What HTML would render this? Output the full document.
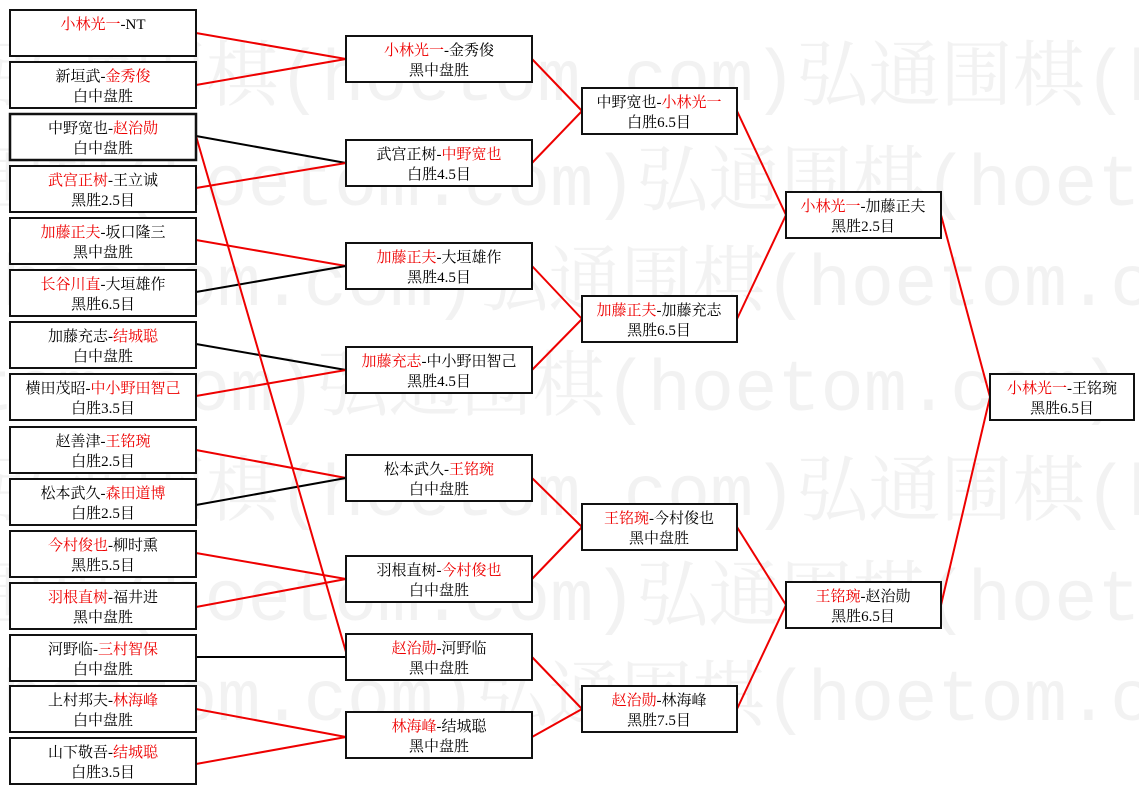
<!DOCTYPE html>
<html><head><meta charset="utf-8"><style>
html,body{margin:0;padding:0;background:#fff;width:1139px;height:793px;overflow:hidden;}
svg{display:block}
text{font-family:"Liberation Serif","Noto Serif CJK SC","Noto Sans CJK SC",serif;font-size:15px}
text.wm{font-size:72px;fill:#f2f2f2;font-family:"Liberation Mono","Noto Serif CJK SC",monospace}
</style></head><body>
<svg width="1139" height="793" xmlns="http://www.w3.org/2000/svg" overflow="hidden">
<rect width="1139" height="793" fill="#fff"/>
<text class="wm" x="-10" y="100">弘通围棋(hoetom.com)弘通围棋(hoetom.com)</text>
<text class="wm" x="-170" y="205">弘通围棋(hoetom.com)弘通围棋(hoetom.com)</text>
<text class="wm" x="-330" y="305">弘通围棋(hoetom.com)弘通围棋(hoetom.com)</text>
<text class="wm" x="-490" y="410">弘通围棋(hoetom.com)弘通围棋(hoetom.com)</text>
<text class="wm" x="-10" y="515">弘通围棋(hoetom.com)弘通围棋(hoetom.com)</text>
<text class="wm" x="-170" y="620">弘通围棋(hoetom.com)弘通围棋(hoetom.com)</text>
<text class="wm" x="-330" y="720">弘通围棋(hoetom.com)弘通围棋(hoetom.com)</text>
<g stroke-width="2" fill="none">
<line x1="196" y1="33" x2="346" y2="59" stroke="#e00"/>
<line x1="196" y1="85" x2="346" y2="59" stroke="#e00"/>
<line x1="196" y1="136" x2="346" y2="163" stroke="#000"/>
<line x1="196" y1="188" x2="346" y2="163" stroke="#e00"/>
<line x1="196" y1="240" x2="346" y2="266" stroke="#e00"/>
<line x1="196" y1="292" x2="346" y2="266" stroke="#000"/>
<line x1="196" y1="344" x2="346" y2="370" stroke="#000"/>
<line x1="196" y1="396" x2="346" y2="370" stroke="#e00"/>
<line x1="196" y1="450" x2="346" y2="478" stroke="#e00"/>
<line x1="196" y1="505" x2="346" y2="478" stroke="#000"/>
<line x1="196" y1="553" x2="346" y2="579" stroke="#e00"/>
<line x1="196" y1="607" x2="346" y2="579" stroke="#e00"/>
<line x1="196" y1="657" x2="346" y2="657" stroke="#000"/>
<line x1="196" y1="709" x2="346" y2="737" stroke="#e00"/>
<line x1="196" y1="764" x2="346" y2="737" stroke="#e00"/>
<line x1="196" y1="136" x2="346" y2="652" stroke="#e00"/>
<line x1="532" y1="59" x2="582" y2="111" stroke="#e00"/>
<line x1="532" y1="163" x2="582" y2="111" stroke="#e00"/>
<line x1="532" y1="266" x2="582" y2="319" stroke="#e00"/>
<line x1="532" y1="370" x2="582" y2="319" stroke="#e00"/>
<line x1="532" y1="478" x2="582" y2="527" stroke="#e00"/>
<line x1="532" y1="579" x2="582" y2="527" stroke="#e00"/>
<line x1="532" y1="657" x2="582" y2="709" stroke="#e00"/>
<line x1="532" y1="737" x2="582" y2="709" stroke="#e00"/>
<line x1="737" y1="111" x2="786" y2="215" stroke="#e00"/>
<line x1="737" y1="319" x2="786" y2="215" stroke="#e00"/>
<line x1="737" y1="527" x2="786" y2="605" stroke="#e00"/>
<line x1="737" y1="709" x2="786" y2="605" stroke="#e00"/>
<line x1="941" y1="215" x2="990" y2="397" stroke="#e00"/>
<line x1="941" y1="605" x2="990" y2="397" stroke="#e00"/>
</g>
<g fill="#fff" stroke="#111" stroke-width="2">
<rect x="10" y="10" width="186" height="46"/>
<rect x="10" y="62" width="186" height="46"/>
<rect x="10" y="114" width="186" height="46" stroke-width="2.5"/>
<rect x="10" y="166" width="186" height="46"/>
<rect x="10" y="218" width="186" height="46"/>
<rect x="10" y="270" width="186" height="46"/>
<rect x="10" y="322" width="186" height="46"/>
<rect x="10" y="374" width="186" height="46"/>
<rect x="10" y="427" width="186" height="46"/>
<rect x="10" y="479" width="186" height="46"/>
<rect x="10" y="531" width="186" height="46"/>
<rect x="10" y="583" width="186" height="46"/>
<rect x="10" y="635" width="186" height="46"/>
<rect x="10" y="686" width="186" height="46"/>
<rect x="10" y="738" width="186" height="46"/>
<rect x="346" y="36" width="186" height="46"/>
<rect x="346" y="140" width="186" height="46"/>
<rect x="346" y="243" width="186" height="46"/>
<rect x="346" y="347" width="186" height="46"/>
<rect x="346" y="455" width="186" height="46"/>
<rect x="346" y="556" width="186" height="46"/>
<rect x="346" y="634" width="186" height="46"/>
<rect x="346" y="712" width="186" height="46"/>
<rect x="582" y="88" width="155" height="46"/>
<rect x="582" y="296" width="155" height="46"/>
<rect x="582" y="504" width="155" height="46"/>
<rect x="582" y="686" width="155" height="46"/>
<rect x="786" y="192" width="155" height="46"/>
<rect x="786" y="582" width="155" height="46"/>
<rect x="990" y="374" width="144" height="46"/>
</g>
<g text-anchor="middle" fill="#000">
<text x="103" y="29"><tspan fill="#e00">小林光一</tspan>-NT</text>
<text x="103" y="81"><tspan>新垣武-</tspan><tspan fill="#e00">金秀俊</tspan></text><text x="103" y="101">白中盘胜</text>
<text x="103" y="133">中野宽也-<tspan fill="#e00">赵治勋</tspan></text><text x="103" y="153">白中盘胜</text>
<text x="103" y="185"><tspan fill="#e00">武宫正树</tspan>-王立诚</text><text x="103" y="205">黑胜2.5目</text>
<text x="103" y="237"><tspan fill="#e00">加藤正夫</tspan>-坂口隆三</text><text x="103" y="257">黑中盘胜</text>
<text x="103" y="289"><tspan fill="#e00">长谷川直</tspan>-大垣雄作</text><text x="103" y="309">黑胜6.5目</text>
<text x="103" y="341">加藤充志-<tspan fill="#e00">结城聪</tspan></text><text x="103" y="361">白中盘胜</text>
<text x="103" y="393">横田茂昭-<tspan fill="#e00">中小野田智己</tspan></text><text x="103" y="413">白胜3.5目</text>
<text x="103" y="446">赵善津-<tspan fill="#e00">王铭琬</tspan></text><text x="103" y="466">白胜2.5目</text>
<text x="103" y="498">松本武久-<tspan fill="#e00">森田道博</tspan></text><text x="103" y="518">白胜2.5目</text>
<text x="103" y="550"><tspan fill="#e00">今村俊也</tspan>-柳时熏</text><text x="103" y="570">黑胜5.5目</text>
<text x="103" y="602"><tspan fill="#e00">羽根直树</tspan>-福井进</text><text x="103" y="622">黑中盘胜</text>
<text x="103" y="654">河野临-<tspan fill="#e00">三村智保</tspan></text><text x="103" y="674">白中盘胜</text>
<text x="103" y="705">上村邦夫-<tspan fill="#e00">林海峰</tspan></text><text x="103" y="725">白中盘胜</text>
<text x="103" y="757">山下敬吾-<tspan fill="#e00">结城聪</tspan></text><text x="103" y="777">白胜3.5目</text>

<text x="439" y="55"><tspan fill="#e00">小林光一</tspan>-金秀俊</text><text x="439" y="75">黑中盘胜</text>
<text x="439" y="159">武宫正树-<tspan fill="#e00">中野宽也</tspan></text><text x="439" y="179">白胜4.5目</text>
<text x="439" y="262"><tspan fill="#e00">加藤正夫</tspan>-大垣雄作</text><text x="439" y="282">黑胜4.5目</text>
<text x="439" y="366"><tspan fill="#e00">加藤充志</tspan>-中小野田智己</text><text x="439" y="386">黑胜4.5目</text>
<text x="439" y="474">松本武久-<tspan fill="#e00">王铭琬</tspan></text><text x="439" y="494">白中盘胜</text>
<text x="439" y="575">羽根直树-<tspan fill="#e00">今村俊也</tspan></text><text x="439" y="595">白中盘胜</text>
<text x="439" y="653"><tspan fill="#e00">赵治勋</tspan>-河野临</text><text x="439" y="673">黑中盘胜</text>
<text x="439" y="731"><tspan fill="#e00">林海峰</tspan>-结城聪</text><text x="439" y="751">黑中盘胜</text>

<text x="659" y="107">中野宽也-<tspan fill="#e00">小林光一</tspan></text><text x="659" y="127">白胜6.5目</text>
<text x="659" y="315"><tspan fill="#e00">加藤正夫</tspan>-加藤充志</text><text x="659" y="335">黑胜6.5目</text>
<text x="659" y="523"><tspan fill="#e00">王铭琬</tspan>-今村俊也</text><text x="659" y="543">黑中盘胜</text>
<text x="659" y="705"><tspan fill="#e00">赵治勋</tspan>-林海峰</text><text x="659" y="725">黑胜7.5目</text>

<text x="863" y="211"><tspan fill="#e00">小林光一</tspan>-加藤正夫</text><text x="863" y="231">黑胜2.5目</text>
<text x="863" y="601"><tspan fill="#e00">王铭琬</tspan>-赵治勋</text><text x="863" y="621">黑胜6.5目</text>

<text x="1062" y="393"><tspan fill="#e00">小林光一</tspan>-王铭琬</text><text x="1062" y="413">黑胜6.5目</text>
</g>
</svg>
</body></html>
